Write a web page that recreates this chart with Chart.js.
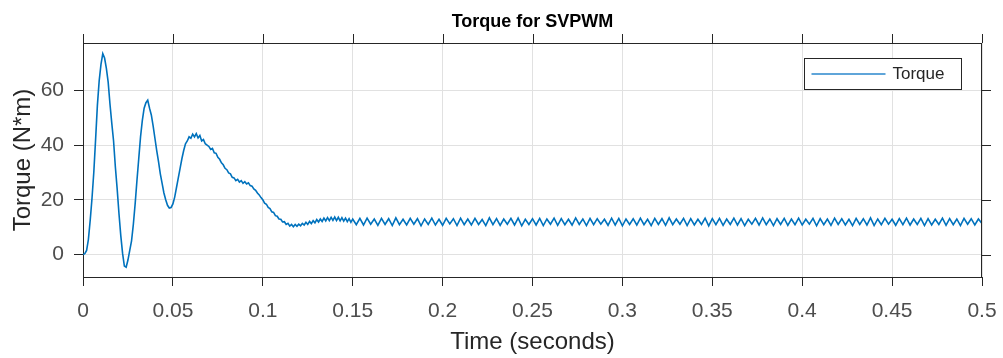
<!DOCTYPE html>
<html>
<head>
<meta charset="utf-8">
<title>Torque for SVPWM</title>
<script src="https://cdn.jsdelivr.net/npm/chart.js@4.4.1/dist/chart.umd.min.js"></script>
<style>
  html, body { margin: 0; padding: 0; background: #fff; }
  #wrap { width: 1003px; height: 358px; position: relative; }
</style>
</head>
<body>
<div id="wrap"><canvas id="torqueChart"></canvas></div>
<script>
// time axis (seconds)
const timeSec = [
  0.000, 0.001, 0.002, 0.003, 0.004, 0.005, 0.006, 0.007, 0.008, 0.009,
  0.010, 0.011, 0.012, 0.013, 0.014, 0.015, 0.016, 0.017, 0.018, 0.019,
  0.020, 0.021, 0.022, 0.023, 0.024, 0.025, 0.026, 0.027, 0.028, 0.029,
  0.030, 0.031, 0.032, 0.033, 0.034, 0.035, 0.036, 0.037, 0.038, 0.039,
  0.040, 0.041, 0.042, 0.043, 0.044, 0.045, 0.046, 0.047, 0.048, 0.049,
  0.050, 0.051, 0.052, 0.053, 0.054, 0.055, 0.056, 0.057, 0.058, 0.059,
  0.060, 0.061, 0.062, 0.063, 0.064, 0.065, 0.066, 0.067, 0.068, 0.069,
  0.070, 0.071, 0.072, 0.073, 0.074, 0.075, 0.076, 0.077, 0.078, 0.079,
  0.080, 0.081, 0.082, 0.083, 0.084, 0.085, 0.086, 0.087, 0.088, 0.089,
  0.090, 0.091, 0.092, 0.093, 0.094, 0.095, 0.096, 0.097, 0.098, 0.099,
  0.100, 0.101, 0.102, 0.103, 0.104, 0.105, 0.106, 0.107, 0.108, 0.109,
  0.110, 0.111, 0.112, 0.113, 0.114, 0.115, 0.116, 0.117, 0.118, 0.119,
  0.120, 0.121, 0.122, 0.123, 0.124, 0.125, 0.126, 0.127, 0.128, 0.129,
  0.130, 0.131, 0.132, 0.133, 0.134, 0.135, 0.136, 0.137, 0.138, 0.139,
  0.140, 0.141, 0.142, 0.143, 0.144, 0.145, 0.146, 0.147, 0.148, 0.149,
  0.150,
  0.152, 0.154, 0.156, 0.158, 0.160, 0.162, 0.164, 0.166, 0.168, 0.170,
  0.172, 0.174, 0.176, 0.178, 0.180, 0.182, 0.184, 0.186, 0.188, 0.190,
  0.192, 0.194, 0.196, 0.198, 0.200, 0.202, 0.204, 0.206, 0.208, 0.210,
  0.212, 0.214, 0.216, 0.218, 0.220, 0.222, 0.224, 0.226, 0.228, 0.230,
  0.232, 0.234, 0.236, 0.238, 0.240, 0.242, 0.244, 0.246, 0.248, 0.250,
  0.252, 0.254, 0.256, 0.258, 0.260, 0.262, 0.264, 0.266, 0.268, 0.270,
  0.272, 0.274, 0.276, 0.278, 0.280, 0.282, 0.284, 0.286, 0.288, 0.290,
  0.292, 0.294, 0.296, 0.298, 0.300, 0.302, 0.304, 0.306, 0.308, 0.310,
  0.312, 0.314, 0.316, 0.318, 0.320, 0.322, 0.324, 0.326, 0.328, 0.330,
  0.332, 0.334, 0.336, 0.338, 0.340, 0.342, 0.344, 0.346, 0.348, 0.350,
  0.352, 0.354, 0.356, 0.358, 0.360, 0.362, 0.364, 0.366, 0.368, 0.370,
  0.372, 0.374, 0.376, 0.378, 0.380, 0.382, 0.384, 0.386, 0.388, 0.390,
  0.392, 0.394, 0.396, 0.398, 0.400, 0.402, 0.404, 0.406, 0.408, 0.410,
  0.412, 0.414, 0.416, 0.418, 0.420, 0.422, 0.424, 0.426, 0.428, 0.430,
  0.432, 0.434, 0.436, 0.438, 0.440, 0.442, 0.444, 0.446, 0.448, 0.450,
  0.452, 0.454, 0.456, 0.458, 0.460, 0.462, 0.464, 0.466, 0.468, 0.470,
  0.472, 0.474, 0.476, 0.478, 0.480, 0.482, 0.484, 0.486, 0.488, 0.490,
  0.492, 0.494, 0.496, 0.498, 0.500
];

// torque (N*m)
const torque = [
  0, 0.3, 1.5, 5.5, 12.5, 20.5, 30, 42, 54.5, 63.5,
  69.5, 73.4, 71.8, 68, 63, 55, 48, 41.5, 32, 24,
  15, 7, 0.5, -4.2, -4.6, -2, 1.5, 5, 11, 18.5,
  27, 35, 43, 49, 53.5, 55.5, 56.4, 53.5, 51, 47,
  42.5, 38, 34, 29.5, 26, 22.5, 20, 18, 17, 17.2,
  18.5, 21, 24.5, 28, 31.5, 35, 38, 40.5, 41.5, 43,
  42.5, 44, 43, 44.2, 42.6, 43.5, 41.5, 42, 40.5, 40,
  39.5, 38.4, 38.8, 37.2, 37, 35.5, 34.8, 33.5, 32.8, 31.5,
  31, 29.8, 29.5, 28.2, 28, 27, 27.5, 26.5, 27, 26,
  26.6, 25.8, 26.2, 25.2, 25, 24, 23.5, 22.5, 21.8, 20.8,
  20, 18.8, 18.4, 17.2, 16.8, 15.6, 15.4, 14.2, 14, 13,
  12.9, 11.9, 12, 11, 11.4, 10.4, 11, 10.2, 11, 10.3,
  11.1, 10.5, 11.4, 10.8, 11.8, 11, 12.1, 11.3, 12.4, 11.6,
  12.8, 11.9, 13, 12.1, 13.3, 12.3, 13.5, 12.4, 13.6, 12.5,
  13.7, 12.4, 13.6, 12.3, 13.5, 12.2, 13.3, 12, 13.1, 11.8,
  13,
  10.9, 13.2, 10.8, 13.3, 11.1, 13.0, 10.7, 13.2, 11.0, 13.1,
  10.6, 13.4, 10.9, 12.9, 10.8, 13.2, 11.1, 13.1, 10.5, 13.0,
  11.0, 13.3, 10.8, 12.9, 10.7, 13.2, 11.2, 13.1, 10.6, 13.3,
  10.9, 13.0, 10.8, 13.2, 11.0, 12.8, 10.6, 13.4, 10.9, 13.1,
  10.7, 13.0, 11.1, 13.2, 10.8, 13.3, 10.5, 12.9, 11.0, 13.1,
  10.8, 13.2, 10.6, 13.0, 11.1, 13.3, 10.7, 13.1, 10.9, 12.9,
  10.8, 13.4, 11.0, 13.0, 10.6, 13.2, 10.9, 13.1, 11.1, 12.9,
  10.7, 13.3, 10.8, 13.2, 10.5, 13.0, 11.0, 13.1, 10.8, 13.3,
  10.9, 12.9, 10.6, 13.2, 11.0, 13.1, 10.7, 13.4, 10.9, 13.0,
  11.1, 13.2, 10.6, 13.1, 10.8, 12.9, 11.0, 13.3, 10.5, 13.1,
  10.9, 13.2, 10.7, 13.0, 11.0, 13.3, 10.8, 13.1, 10.6, 12.9,
  11.1, 13.2, 10.8, 13.4, 10.9, 13.0, 10.6, 13.1, 11.0, 13.2,
  10.7, 13.0, 10.9, 13.3, 10.8, 12.9, 11.1, 13.2, 10.5, 13.1,
  10.9, 13.0, 10.7, 13.3, 11.0, 13.1, 10.8, 12.9, 10.6, 13.2,
  11.0, 13.1, 10.8, 13.4, 10.6, 13.0, 10.9, 13.2, 11.1, 12.9,
  10.7, 13.1, 10.9, 13.3, 10.8, 13.0, 11.0, 13.2, 10.6, 13.1,
  10.8, 12.9, 11.0, 13.3, 10.7, 13.1, 10.9, 13.0, 10.6, 13.2,
  11.1, 13.1, 10.8, 13.0, 11.3
];

const xTicks = [0, 0.05, 0.1, 0.15, 0.2, 0.25, 0.3, 0.35, 0.4, 0.45, 0.5];
const xTickLabels = ['0', '0.05', '0.1', '0.15', '0.2', '0.25', '0.3', '0.35', '0.4', '0.45', '0.5'];
const yTicks = [0, 20, 40, 60];
const yTickLabels = ['0', '20', '40', '60'];

const seriesName = 'Torque';
const lineColor = '#0072BD';
const axisColor = '#262626';
const gridColor = '#e1e1e1';
const tickTextColor = '#4d4d4d';
const fontFamily = '"Liberation Sans", Arial, Helvetica, sans-serif';

// box, outer ticks on top/right, title and legend, MATLAB style
const matlabFrame = {
    id: 'matlabFrame',
    afterDraw(chart) {
        const ctx = chart.ctx;
        const area = chart.chartArea;
        const xs = chart.scales.x;
        const ys = chart.scales.y;

        ctx.save();
        ctx.strokeStyle = axisColor;
        ctx.lineWidth = 1;
        ctx.beginPath();
        ctx.moveTo(area.left, area.top + 0.5);
        ctx.lineTo(area.right, area.top + 0.5);
        ctx.moveTo(area.right - 0.5, area.top);
        ctx.lineTo(area.right - 0.5, area.bottom);
        xTicks.forEach(v => {
            const px = Math.round(xs.getPixelForValue(v)) + 0.5;
            ctx.moveTo(px, area.top);
            ctx.lineTo(px, area.top - 9);
        });
        yTicks.forEach(v => {
            const py = Math.round(ys.getPixelForValue(v)) + 0.5;
            ctx.moveTo(area.right, py);
            ctx.lineTo(area.right + 9, py);
        });
        ctx.stroke();

        // title
        ctx.fillStyle = '#000';
        ctx.font = 'bold 18px ' + fontFamily;
        ctx.textAlign = 'center';
        ctx.textBaseline = 'middle';
        ctx.fillText('Torque for SVPWM', (area.left + area.right) / 2, 22);

        // legend box
        const lx = 804.5, ly = 58.5, lw = 157, lh = 31;
        ctx.fillStyle = '#fff';
        ctx.fillRect(lx, ly, lw, lh);
        ctx.strokeStyle = axisColor;
        ctx.strokeRect(lx, ly, lw, lh);
        ctx.strokeStyle = '#5fa5d9';
        ctx.lineWidth = 2;
        ctx.beginPath();
        ctx.moveTo(lx + 7, ly + 15.5);
        ctx.lineTo(lx + 81, ly + 15.5);
        ctx.stroke();
        ctx.fillStyle = axisColor;
        ctx.font = '17px ' + fontFamily;
        ctx.textAlign = 'left';
        ctx.fillText(seriesName, lx + 88, ly + 16);
        ctx.restore();
    }
};

const points = timeSec.map((t, i) => ({ x: t, y: torque[i] }));

new Chart(document.getElementById('torqueChart'), {
    type: 'line',
    data: {
        datasets: [{
            label: seriesName,
            data: points,
            borderColor: lineColor,
            borderWidth: 1.6,
            pointRadius: 0,
            tension: 0,
            fill: false
        }]
    },
    options: {
        responsive: true,
        maintainAspectRatio: false,
        animation: false,
        events: [],
        layout: { padding: { left: 0, right: 21, top: 43, bottom: 0 } },
        plugins: {
            legend: { display: false },
            title: { display: false },
            tooltip: { enabled: false }
        },
        scales: {
            x: {
                type: 'linear',
                min: 0,
                max: 0.5,
                afterFit: s => { s.height = 81; s.paddingLeft = 0; s.paddingRight = 0; },
                afterBuildTicks: s => { s.ticks = xTicks.map(v => ({ value: v })); },
                ticks: {
                    color: tickTextColor,
                    font: { family: fontFamily, size: 21 },
                    padding: 13,
                    maxRotation: 0,
                    autoSkip: false,
                    callback: (v, i) => xTickLabels[i]
                },
                grid: { color: gridColor, tickColor: axisColor, tickLength: 9, lineWidth: 1 },
                border: { color: axisColor, width: 1 },
                title: {
                    display: true,
                    text: 'Time (seconds)',
                    color: axisColor,
                    font: { family: fontFamily, size: 24 },
                    padding: { top: 0, bottom: 1 }
                }
            },
            y: {
                type: 'linear',
                min: -8.2,
                max: 77.3,
                afterFit: s => { s.width = 83; s.paddingTop = 0; s.paddingBottom = 0; },
                afterBuildTicks: s => { s.ticks = yTicks.map(v => ({ value: v })); },
                ticks: {
                    color: tickTextColor,
                    font: { family: fontFamily, size: 21 },
                    padding: 10,
                    callback: (v, i) => yTickLabels[i]
                },
                grid: { color: gridColor, tickColor: axisColor, tickLength: 9, lineWidth: 1 },
                border: { color: axisColor, width: 1 },
                title: {
                    display: true,
                    text: 'Torque (N*m)',
                    color: axisColor,
                    font: { family: fontFamily, size: 24 },
                    padding: { top: 9, bottom: 0 }
                }
            }
        }
    },
    plugins: [matlabFrame]
});
</script>
</body>
</html>
